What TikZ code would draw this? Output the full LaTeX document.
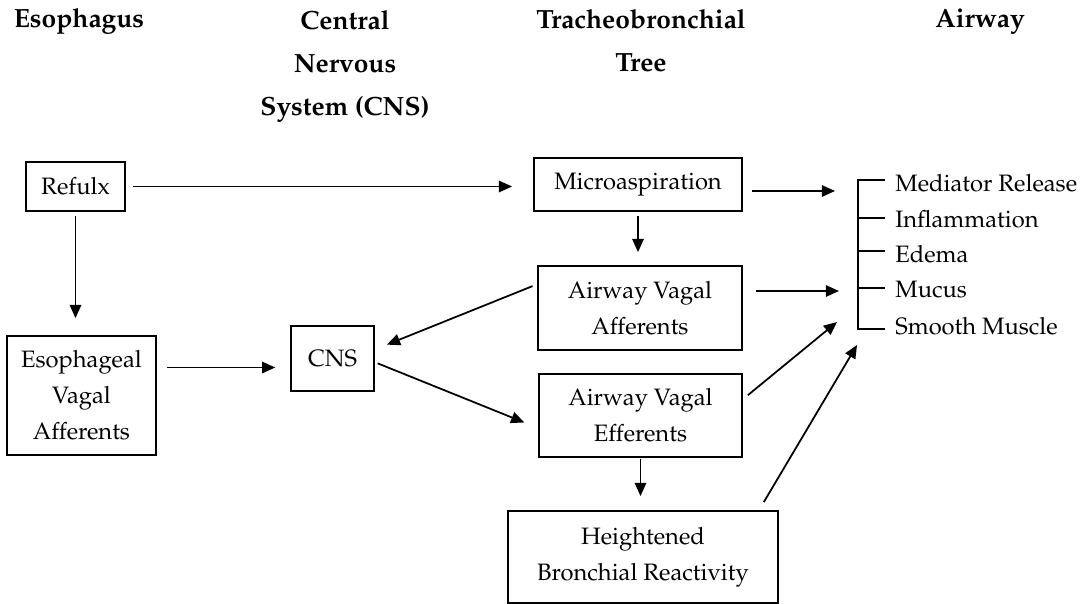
\documentclass[tikz,border=0pt]{standalone}
\usepackage[T1]{fontenc}
\usepackage{mathpazo}
\usetikzlibrary{arrows.meta}

\begin{document}
\begin{tikzpicture}[x=0.02cm, y=-0.02cm,
    >={Triangle[length=7.5pt,width=6.5pt]},
    boite/.style={draw, line width=1pt, align=center, inner sep=0pt,
        font=\fontsize{13.5}{20.4}\selectfont},
    titre/.style={align=center, inner sep=0pt,
        font=\fontsize{15}{24.4}\selectfont\bfseries},
    texte/.style={anchor=base west, inner sep=0pt,
        font=\fontsize{13.5}{16}\selectfont},
    fleche/.style={->, line width=1pt}]
    \useasboundingbox (0,0) rectangle (1092,604);

    % Titres des colonnes
    \node[titre, anchor=base] (T1) at (79,28) {Esophagus};
    \node[titre] (T2) at (345,66) {Central\\Nervous\\System (CNS)};
    \node[titre] (T3) at (641,41) {Tracheobronchial\\Tree};
    \node[titre, anchor=base] (T4) at (980,28) {Airway};

    % Boites
    \node[boite, minimum width=1.98cm, minimum height=0.98cm] (Ref) at (75.5,186.5) {Refulx};
    \node[boite, minimum width=2.98cm, minimum height=2.38cm] (Eso) at (81.5,395.5) {Esophageal\\Vagal\\Afferents};
    \node[boite, minimum width=1.66cm, minimum height=1.30cm] (CNS) at (332.5,358.5) {CNS};
    \node[boite, minimum width=4.16cm, minimum height=1.06cm] (Mic) at (638,184.5) {Microaspiration};
    \node[boite, minimum width=4.08cm, minimum height=1.68cm] (Aff) at (640,308) {Airway Vagal\\Afferents};
    \node[boite, minimum width=4.06cm, minimum height=1.66cm] (Eff) at (640.5,415.5) {Airway Vagal\\Efferents};
    \node[boite, minimum width=5.40cm, minimum height=1.84cm] (Hyp) at (643,557) {Heightened\\Bronchial Reactivity};

    % Accolade et effets sur l'airway
    \draw[line width=1pt] (885,180) -- (858,180) -- (858,329) -- (885,329);
    \draw[line width=1pt] (858,218) -- (885,218);
    \draw[line width=1pt] (858,251) -- (885,251);
    \draw[line width=1pt] (858,288) -- (885,288);
    \node[texte] (E1) at (895,192) {Mediator Release};
    \node[texte] (E2) at (895,228) {Inflammation};
    \node[texte] (E3) at (895,263) {Edema};
    \node[texte] (E4) at (895,298) {Mucus};
    \node[texte] (E5) at (895,335) {Smooth Muscle};

    % Pointes des fleches vers l'accolade
    \coordinate (P1) at (835,191);
    \coordinate (P2) at (839,291);
    \coordinate (P3) at (837,322);
    \coordinate (P4) at (857,345);

    % Fleches
    \draw[fleche, shorten <=4pt, shorten >=12pt] (Ref.east) -- (Ref.east -| Mic.west);
    \draw[fleche, shorten <=2.3pt, shorten >=9.7pt] (Ref.south) -- (Ref.south |- Eso.north);
    \draw[fleche, shorten <=5.7pt, shorten >=8.5pt] (Eso.east |- CNS.192) -- (CNS.192);
    \draw[fleche, shorten <=2.3pt, shorten >=7.4pt] (Mic.south) -- (Mic.south |- Aff.north);
    \draw[fleche, shorten <=2.8pt, shorten >=7.4pt] (Aff.167) -- (CNS.12);
    \draw[fleche, shorten <=1.7pt, shorten >=8.5pt] (CNS.-5) -- (Eff.187);
    \draw[fleche, shorten <=0.5pt, shorten >=8pt] (Eff.south) -- (Eff.south |- Hyp.north);
    \draw[fleche, shorten <=5pt] (Mic.east |- P1) -- (P1);
    \draw[fleche, shorten <=7.4pt] (Aff.east |- P2) -- (P2);
    \draw[fleche, shorten <=3.7pt] (Eff.9) -- (P3);
    \draw[fleche, shorten <=5.3pt] (Hyp.22) -- (P4);
\end{tikzpicture}
\end{document}
